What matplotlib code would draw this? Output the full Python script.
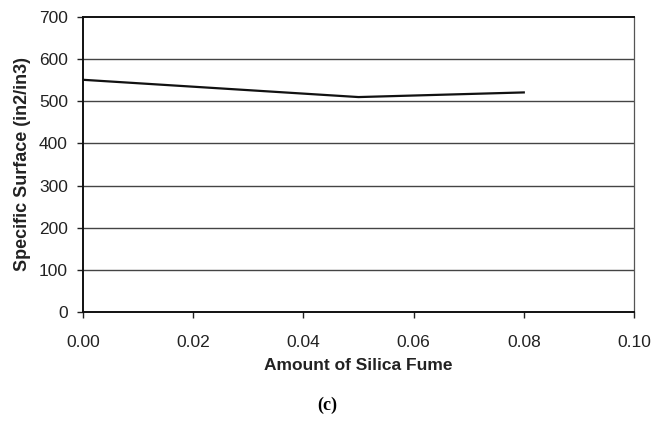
import matplotlib
matplotlib.use("Agg")
import matplotlib.pyplot as plt

silica = [0.00, 0.05, 0.08]
surface = [551, 510, 521]
xticks = [0.00, 0.02, 0.04, 0.06, 0.08, 0.10]
yticks = [0, 100, 200, 300, 400, 500, 600, 700]

plt.rcParams['font.family'] = ['Liberation Sans', 'DejaVu Sans']

fig = plt.figure(figsize=(6.54, 4.24), dpi=100)
ax = fig.add_axes([0.1269, 0.2642, 0.8425, 0.6957])

for y in yticks[1:-1]:
    ax.axhline(y, color='#444444', lw=1.0, zorder=1)

ax.plot(silica, surface, color='#111111', lw=1.6, zorder=3)

ax.set_xlim(0, 0.10)
ax.set_ylim(0, 700)
ax.set_xticks(xticks)
ax.set_xticklabels([f"{v:.2f}" for v in xticks])
ax.set_yticks(yticks)
ax.set_yticklabels([str(v) for v in yticks])
ax.tick_params(axis='both', direction='out', length=4.3, width=1, colors='#222222', labelsize=12.5)
ax.tick_params(axis='y', pad=6.5)
ax.tick_params(axis='x', pad=12)

for side in ['left', 'bottom', 'top']:
    ax.spines[side].set_color('#111111')
    ax.spines[side].set_linewidth(1.4)
ax.spines['right'].set_color('#555555')
ax.spines['right'].set_linewidth(0.9)

ax.set_xlabel('Amount of Silica Fume', fontsize=12.5, fontweight='bold', labelpad=6, color='#222222')
ax.set_ylabel('Specific Surface (in2/in3)', fontsize=13, fontweight='bold', labelpad=6, color='#222222')

fig.text(0.5, 0.045, '(c)', ha='center', va='center', fontsize=13, fontweight='bold',
         family=['Liberation Serif', 'DejaVu Serif'])

fig.savefig('out.png', dpi=100)
